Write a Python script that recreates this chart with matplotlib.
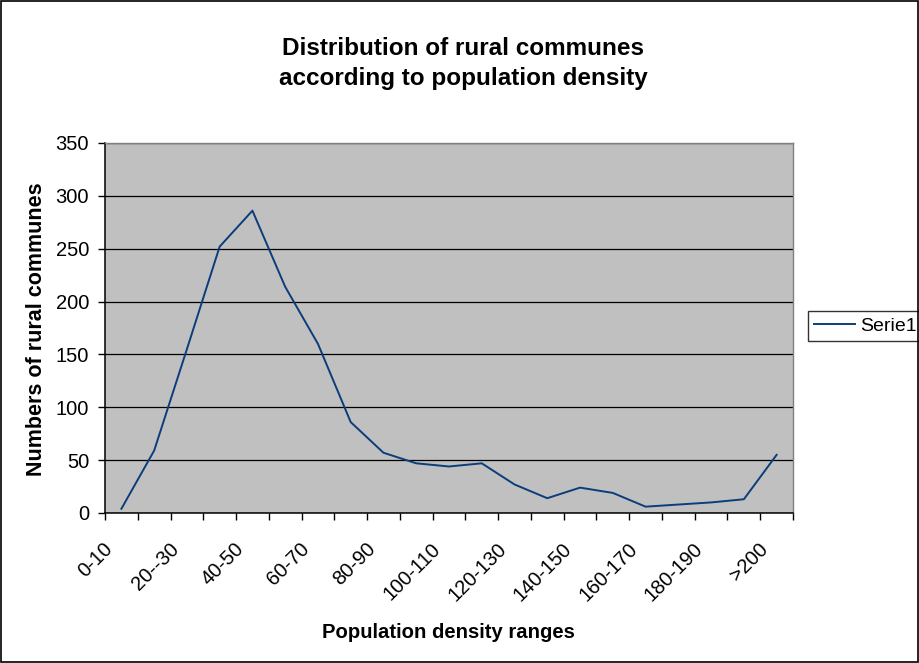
import matplotlib
matplotlib.use("Agg")
import matplotlib.pyplot as plt
from matplotlib.patches import Rectangle
from matplotlib.ticker import FixedLocator
from matplotlib.transforms import ScaledTranslation

plt.rcParams['font.family'] = ['Liberation Sans', 'DejaVu Sans']

# Population density classes (inhabitants per km²)
categories = ["0-10", "10-20", "20--30", "30-40", "40-50", "50-60", "60-70",
              "70-80", "80-90", "90-100", "100-110", "110-120", "120-130",
              "130-140", "140-150", "150-160", "160-170", "170-180",
              "180-190", "190-200", ">200"]
# Number of rural communes in each class
communes = [4, 59, 155, 252, 286, 214, 160, 86, 57, 47, 44, 47, 27,
            14, 24, 19, 6, 8, 10, 13, 55]
series_name = "Serie1"
y_ticks = [0, 50, 100, 150, 200, 250, 300, 350]

fig = plt.figure(figsize=(9.2, 6.63), dpi=100)
fig.patches.append(Rectangle((0.001, 0.001), 0.997, 0.997, transform=fig.transFigure,
                             fill=False, edgecolor='black', linewidth=1.2))

ax = fig.add_axes([105 / 920, 1 - 513 / 663, (793 - 105) / 920, (513 - 143) / 663])
ax.set_facecolor('#C0C0C0')

x = list(range(len(categories)))
ax.plot(x, communes, color='#0B3C7C', linewidth=1.4, label=series_name)

ax.set_xlim(-0.5, len(categories) - 0.5)
ax.set_ylim(0, 350)
ax.yaxis.set_major_locator(FixedLocator(y_ticks))
ax.grid(axis='y', color='black', linewidth=0.9)
ax.set_axisbelow(True)

# category boundaries carry the tick marks, labels sit on every other category
ax.set_xticks([i - 0.5 for i in range(len(categories) + 1)], minor=True)
ax.set_xticks(x[::2])
ax.set_xticklabels(categories[::2], rotation=45, ha='right', va='top',
                   rotation_mode='anchor', fontsize=14.5)
ax.tick_params(axis='x', which='major', length=0, pad=19)
ax.tick_params(axis='x', which='minor', length=5, width=1, direction='out', color='black')
ax.tick_params(axis='y', length=5, width=1, direction='out', labelsize=14.5, pad=6.5)

# nudge the rotated labels so their upper end sits left of the category centre
shift = ScaledTranslation(-18 / 100, 0, fig.dpi_scale_trans)
for lbl in ax.xaxis.get_majorticklabels():
    lbl.set_transform(lbl.get_transform() + shift)

for side in ('top', 'right'):
    ax.spines[side].set_color('#808080')
    ax.spines[side].set_linewidth(1)
for side in ('left', 'bottom'):
    ax.spines[side].set_color('black')
    ax.spines[side].set_linewidth(1.1)

fig.text(463 / 920, 1 - 55 / 663, "Distribution of rural communes",
         ha='center', va='baseline', fontsize=17.5, fontweight='bold')
fig.text(463 / 920, 1 - 85 / 663, "according to population density",
         ha='center', va='baseline', fontsize=17.5, fontweight='bold')
fig.text(448 / 920, 1 - 632 / 663, "Population density ranges",
         ha='center', va='center', fontsize=14.6, fontweight='bold')
fig.text(37 / 920, 1 - 329 / 663, "Numbers of rural communes",
         ha='center', va='center', rotation=90, fontsize=15.5, fontweight='bold')

leg = ax.legend(loc='center left', bbox_to_anchor=(808 / 920, 1 - 326 / 663),
                bbox_transform=fig.transFigure, frameon=True, fancybox=False,
                fontsize=14, handlelength=2.1, handletextpad=0.3,
                borderpad=0.3, borderaxespad=0)
leg.get_frame().set_edgecolor('black')
leg.get_frame().set_linewidth(1)

fig.savefig("out.png", dpi=100)
